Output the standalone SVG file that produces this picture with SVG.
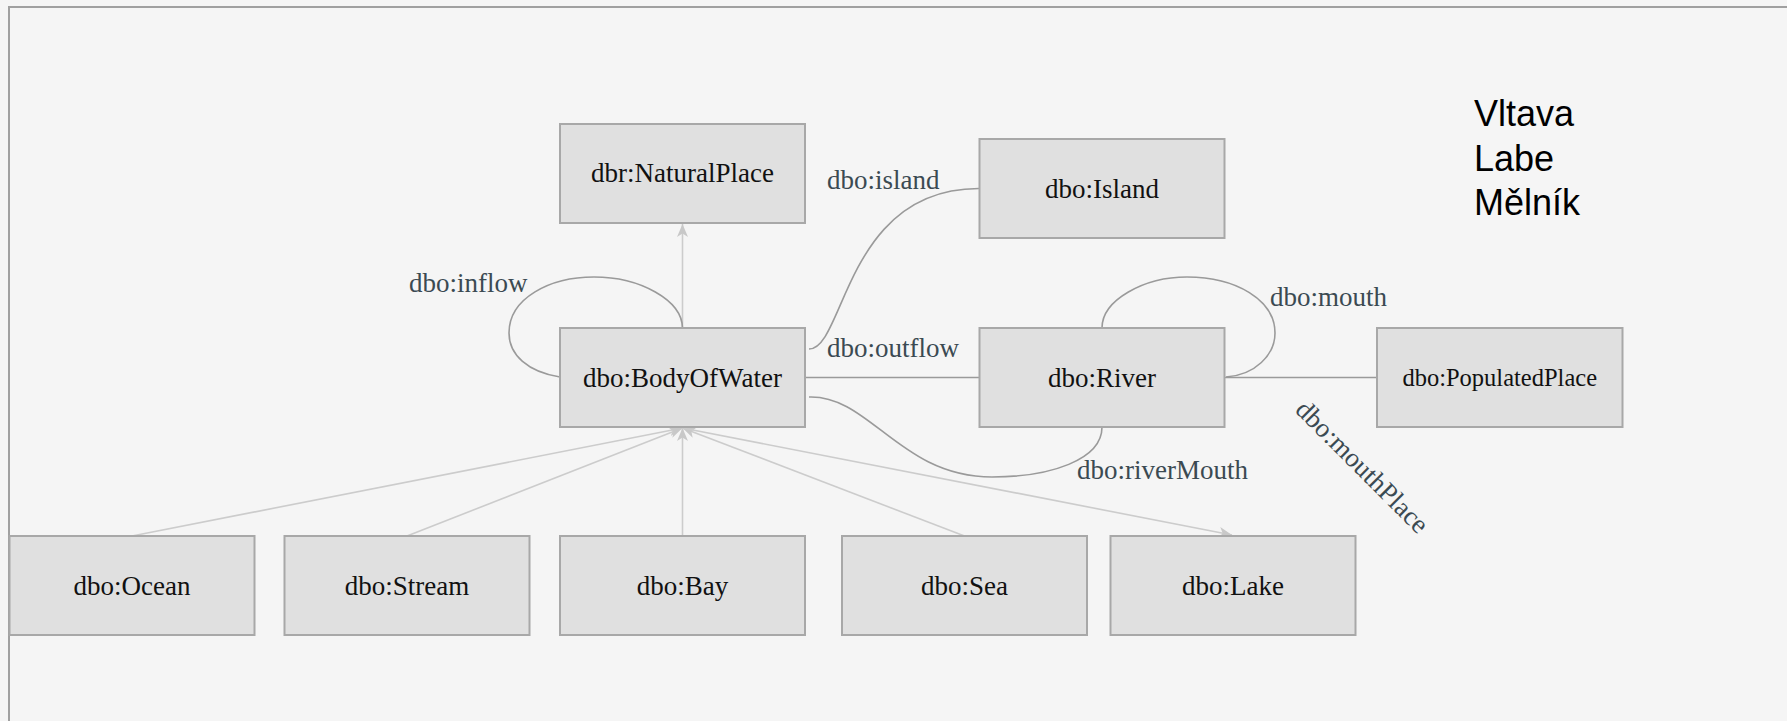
<svg xmlns="http://www.w3.org/2000/svg" width="1787" height="721" viewBox="0 0 1787 721">
  <style>
    .node rect { fill: #e0e0e0; stroke: #a8a8a8; stroke-width: 2; }
    .node text { font-family: "Liberation Serif", serif; font-size: 27px; fill: #111111; text-anchor: middle; }
    .sub { fill: none; stroke: #cccccc; stroke-width: 1.6; }
    .prop { fill: none; stroke: #9a9a9a; stroke-width: 1.6; }
    .elabel { font-family: "Liberation Serif", serif; font-size: 27px; fill: #3b4a52; }
    .note { font-family: "Liberation Sans", Arial, sans-serif; font-size: 36px; fill: #000000; }
  </style>
  <defs>
    <marker id="arr" markerUnits="userSpaceOnUse" markerWidth="14" markerHeight="12" viewBox="0 0 14 12" refX="13" refY="6" orient="auto">
      <path d="M0,0.5 L13,6 L0,11.5 L3.5,6 Z" fill="#c8c8c8"/>
    </marker>
  </defs>
  <rect x="0" y="0" width="1787" height="721" fill="#f5f5f5"/>
  <rect x="9" y="7" width="1800" height="740" fill="none" stroke="#a0a0a0" stroke-width="2"/>

  <g id="connectors">
    <line class="sub" x1="682.5" y1="328" x2="682.5" y2="224" marker-end="url(#arr)"/>
    <line class="sub" x1="132" y1="536" x2="682.5" y2="428" marker-end="url(#arr)"/>
    <line class="sub" x1="407" y1="536" x2="682.5" y2="428" marker-end="url(#arr)"/>
    <line class="sub" x1="682.5" y1="536" x2="682.5" y2="428" marker-end="url(#arr)"/>
    <line class="sub" x1="964.5" y1="536" x2="682.5" y2="428" marker-end="url(#arr)"/>
    <line class="sub" x1="682.5" y1="428" x2="1232" y2="535" marker-end="url(#arr)"/>
    <path class="prop" d="M560,377 C528,372 509,355 509,333 C509,298 550,277 594,277 C640,277 682,300 682.5,328"/>
    <path class="prop" d="M809,349 C845,349 845,188 979.5,188.5"/>
    <line class="prop" x1="805" y1="377.5" x2="979.5" y2="377.5"/>
    <path class="prop" d="M809,397 C870,395 900,477 992,477 C1050,477 1102,460 1102,427"/>
    <path class="prop" d="M1102,328 C1102,300 1144,277 1187,277 C1236,277 1275,300 1275,333 C1275,355 1255,375 1226,377"/>
    <line class="prop" x1="1224.5" y1="377.5" x2="1377" y2="377.5"/>
    <text class="elabel" x="827" y="189">dbo:island</text>
    <text class="elabel" x="409" y="292">dbo:inflow</text>
    <text class="elabel" x="827" y="357">dbo:outflow</text>
    <text class="elabel" x="1270" y="306">dbo:mouth</text>
    <text class="elabel" x="1077" y="479">dbo:riverMouth</text>
    <text class="elabel" x="1294" y="411" transform="rotate(45 1294 411)">dbo:mouthPlace</text>
  </g>

  <g id="NaturalPlace" class="node"><rect x="560" y="124" width="245" height="99"/><text x="682.5" y="182">dbr:NaturalPlace</text></g>
  <g id="BodyOfWater" class="node"><rect x="560" y="328" width="245" height="99"/><text x="682.5" y="386.5">dbo:BodyOfWater</text></g>
  <g id="Island" class="node"><rect x="979.5" y="139" width="245" height="99"/><text x="1102" y="197.5">dbo:Island</text></g>
  <g id="River" class="node"><rect x="979.5" y="328" width="245" height="99"/><text x="1102" y="386.5">dbo:River</text></g>
  <g id="PopulatedPlace" class="node"><rect x="1377" y="328" width="245.5" height="99"/><text x="1499.75" y="386" style="font-size:24.5px">dbo:PopulatedPlace</text></g>
  <g id="Ocean" class="node"><rect x="9.5" y="536" width="245" height="99"/><text x="132" y="594.5">dbo:Ocean</text></g>
  <g id="Stream" class="node"><rect x="284.5" y="536" width="245" height="99"/><text x="407" y="594.5">dbo:Stream</text></g>
  <g id="Bay" class="node"><rect x="560" y="536" width="245" height="99"/><text x="682.5" y="594.5">dbo:Bay</text></g>
  <g id="Sea" class="node"><rect x="842" y="536" width="245" height="99"/><text x="964.5" y="594.5">dbo:Sea</text></g>
  <g id="Lake" class="node"><rect x="1110.5" y="536" width="245" height="99"/><text x="1233" y="594.5">dbo:Lake</text></g>

  <g id="notes">
    <text class="note" x="1474" y="126">Vltava</text>
    <text class="note" x="1474" y="170.7">Labe</text>
    <text class="note" x="1474" y="215">Mělník</text>
  </g>
</svg>
